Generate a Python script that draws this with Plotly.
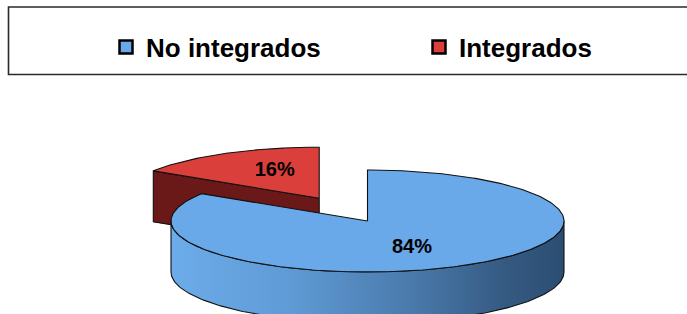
import numpy as np
import plotly.graph_objects as go

# ---------------- data ----------------
categories = ["No integrados", "Integrados"]
values = [84, 16]
label_texts = ["84%", "16%"]
top_colors = ["#69a9e9", "#db3f3b"]
red_side_color = "#6a1818"
blue_side_scale = [[0.0, "#6cacea"], [0.3, "#5f9bd6"], [0.6, "#4b7bad"],
                   [0.85, "#355a82"], [1.0, "#2b4d72"]]

# ---------------- geometry (pixel layout) ----------------
W, H = 687, 314
cx, cy = 367.5, 221.0
a, b = 196.5, 51.0
depth = 51.0
explode = [0.0, 0.51]
legend_x = [106, 419]   # left edge of each legend entry (px)

total = float(sum(values))
fracs = [v / total for v in values]
starts = np.concatenate([[0.0], np.cumsum(fracs)[:-1]]) * 2 * np.pi
ends = starts + np.array(fracs) * 2 * np.pi


def ell(theta, ox, oy, dz=0.0):
    theta = np.asarray(theta)
    return ox + a * np.sin(theta), oy - b * np.cos(theta) + dz


slices = []
for i in range(len(values)):
    mid = (starts[i] + ends[i]) / 2
    ox = cx + explode[i] * a * np.sin(mid)
    oy = cy - explode[i] * b * np.cos(mid)
    slices.append(dict(i=i, s=starts[i], e=ends[i], mid=mid, ox=ox, oy=oy))

fig = go.Figure()
line = dict(color="#111111", width=1.1)

# draw back slices first
for sl in sorted(slices, key=lambda d: d["oy"]):
    i, s, e, ox, oy = sl["i"], sl["s"], sl["e"], sl["ox"], sl["oy"]
    # radial faces
    for ang, vis in ((s, np.sin(s) < -1e-6), (e, np.sin(e) > 1e-6)):
        if vis:
            px, py = ell(ang, ox, oy)
            xs = [ox, px, px, ox, ox]
            ys = [oy, py, py + depth, oy + depth, oy]
            fig.add_trace(go.Scatter(x=xs, y=ys, mode="lines", fill="toself",
                                     fillcolor=red_side_color if i == 1 else "#2c4e73",
                                     line=line, hoverinfo="skip", showlegend=False))
    # outer curved side (front half)
    lo, hi = max(s, np.pi / 2), min(e, 3 * np.pi / 2)
    if hi > lo:
        t = np.linspace(lo, hi, 200)
        x1, y1 = ell(t, ox, oy)
        x2, y2 = ell(t[::-1], ox, oy, depth)
        xs = np.concatenate([x1, x2, x1[:1]])
        ys = np.concatenate([y1, y2, y1[:1]])
        kw = dict(fillgradient=dict(type="horizontal", colorscale=blue_side_scale)) if i == 0 \
            else dict(fillcolor=red_side_color)
        fig.add_trace(go.Scatter(x=xs, y=ys, mode="lines", fill="toself",
                                 line=line, hoverinfo="skip", showlegend=False, **kw))
    # top face
    t = np.linspace(s, e, 300)
    px, py = ell(t, ox, oy)
    xs = np.concatenate([[ox], px, [ox]])
    ys = np.concatenate([[oy], py, [oy]])
    fig.add_trace(go.Scatter(x=xs, y=ys, mode="lines", fill="toself",
                             fillcolor=top_colors[i], line=line,
                             hoverinfo="skip", showlegend=False))

# labels
lx, ly = [], []
for sl in slices:
    lx.append(sl["ox"] + 0.47 * a * np.sin(sl["mid"]))
    ly.append(sl["oy"] - 0.6 * b * np.cos(sl["mid"]))
fig.add_trace(go.Scatter(x=lx, y=ly, mode="text", text=label_texts,
                         textposition="middle center",
                         textfont=dict(family="Liberation Sans", size=20,
                                       color="black", weight="bold"),
                         hoverinfo="skip", showlegend=False))

# legend entries (one legend per entry for exact placement)
legend_names = ["legend", "legend2"]
for i, name in enumerate(categories):
    fig.add_trace(go.Scatter(x=[None], y=[None], mode="markers", name=name,
                             legend=legend_names[i],
                             marker=dict(symbol="square", size=13, color=top_colors[i],
                                         line=dict(color="black", width=2.5))))

leg_common = dict(orientation="h", xanchor="left", y=1 - 47 / H, yanchor="middle",
                  itemwidth=30,
                  font=dict(family="Liberation Sans", size=26, color="black", weight="bold"),
                  bgcolor="rgba(0,0,0,0)", borderwidth=0)

fig.update_layout(
    width=W, height=H,
    margin=dict(l=0, r=0, t=0, b=0),
    paper_bgcolor="white", plot_bgcolor="white",
    xaxis=dict(range=[0, W], visible=False, fixedrange=True),
    yaxis=dict(range=[H, 0], visible=False, fixedrange=True),
    showlegend=True,
    legend=dict(x=legend_x[0] / W, **leg_common),
    legend2=dict(x=legend_x[1] / W, **leg_common),
    shapes=[dict(type="rect", xref="paper", yref="paper",
                 x0=8.5 / W, x1=1.05, y0=1 - 74.5 / H, y1=1 - 7 / H,
                 line=dict(color="#2a2a2a", width=1.6), fillcolor="rgba(0,0,0,0)",
                 layer="below")],
)

fig.write_html("out.html", config={"displayModeBar": False},
               post_script="document.body.style.margin='0';document.body.style.overflow='hidden';")
